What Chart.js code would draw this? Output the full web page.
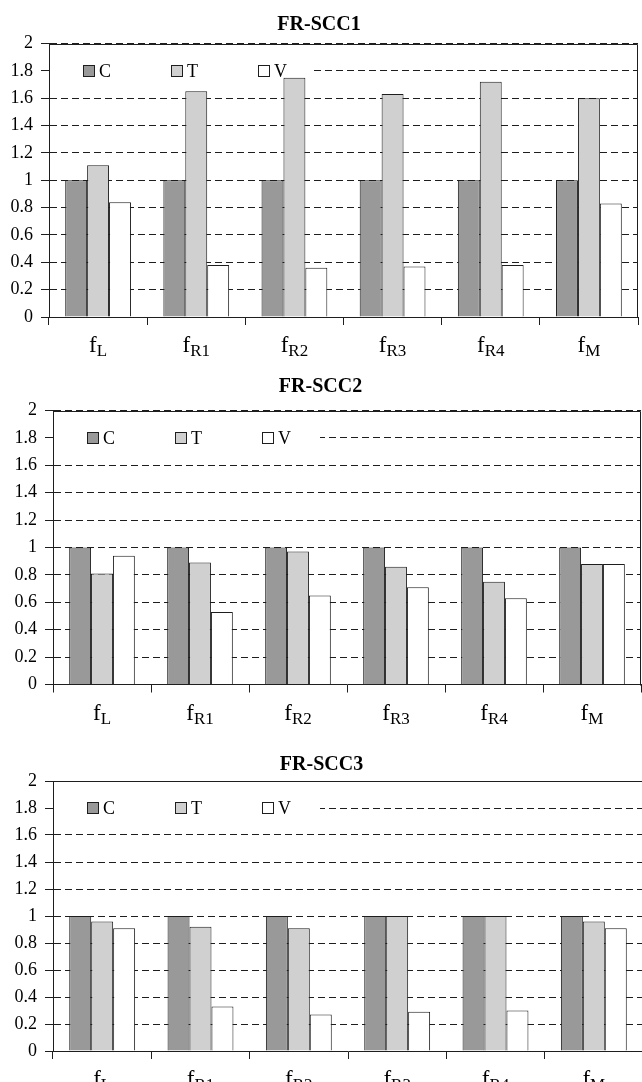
<!DOCTYPE html>
<html>
<head>
<meta charset="utf-8">
<script src="https://cdn.jsdelivr.net/npm/chart.js@4.4.1/dist/chart.umd.min.js"></script>
<style>
  html, body { margin: 0; padding: 0; background: #fff; overflow: hidden; width: 642px; height: 1082px; }
  .panel { position: absolute; left: 0; width: 650px; }
</style>
</head>
<body>
<div class="panel" style="top:0px;height:365px"><canvas id="scc1"></canvas></div>
<div class="panel" style="top:360px;height:370px"><canvas id="scc2"></canvas></div>
<div class="panel" style="top:730px;height:380px"><canvas id="scc3"></canvas></div>
<script>
// Categories: subscripts of the factor f (drawn as f with subscript)
const categories = ['L', 'R1', 'R2', 'R3', 'R4', 'M'];
const seriesNames = ['C', 'T', 'V'];
const seriesColors = ['#999999', '#d0d0d0', '#ffffff'];
const yTicks = [0, 0.2, 0.4, 0.6, 0.8, 1, 1.2, 1.4, 1.6, 1.8, 2];

// FR-SCC1
const scc1C = [1, 1, 1, 1, 1, 1];
const scc1T = [1.11, 1.65, 1.75, 1.63, 1.72, 1.60];
const scc1V = [0.84, 0.38, 0.36, 0.37, 0.38, 0.83];
// FR-SCC2
const scc2C = [1, 1, 1, 1, 1, 1];
const scc2T = [0.81, 0.89, 0.97, 0.86, 0.75, 0.88];
const scc2V = [0.94, 0.53, 0.65, 0.71, 0.63, 0.88];
// FR-SCC3
const scc3C = [1, 1, 1, 1, 1, 1];
const scc3T = [0.96, 0.92, 0.91, 1.00, 1.00, 0.96];
const scc3V = [0.91, 0.33, 0.27, 0.29, 0.30, 0.91];

const SERIF = '"Liberation Serif", "Times New Roman", serif';
const INK = '#1e1e1e';

// White legend strip at the 1.8 level inside the plot, hiding that grid line
const insideLegend = {
  id: 'insideLegend',
  beforeDatasetsDraw(chart, args, opts) {
    const { ctx, chartArea, scales: { y } } = chart;
    const yc = Math.round(y.getPixelForValue(opts.level));
    ctx.save();
    ctx.fillStyle = '#fff';
    ctx.fillRect(chartArea.left + 1, yc - 9, opts.boxWidth, 18);
    ctx.font = '18px ' + SERIF;
    ctx.textBaseline = 'middle';
    chart.data.datasets.forEach((ds, i) => {
      const x = Math.round(chartArea.left + opts.offset + i * opts.step);
      ctx.fillStyle = ds.backgroundColor;
      ctx.fillRect(x, yc - 6, 12, 11);
      ctx.strokeStyle = INK;
      ctx.lineWidth = 1;
      ctx.strokeRect(x + 0.5, yc - 6 + 0.5, 11, 11);
      ctx.fillStyle = '#000';
      ctx.fillText(ds.label, x + 16, yc + 1);
    });
    ctx.restore();
  }
};

// Solid frame on top and right of the plot area
const plotFrame = {
  id: 'plotFrame',
  afterDatasetsDraw(chart) {
    const { ctx, chartArea: a } = chart;
    ctx.save();
    ctx.strokeStyle = INK;
    ctx.lineWidth = 1;
    ctx.beginPath();
    ctx.moveTo(Math.round(a.left) + 0.5, Math.round(a.top) + 0.5);
    ctx.lineTo(Math.round(a.right) - 0.5, Math.round(a.top) + 0.5);
    ctx.lineTo(Math.round(a.right) - 0.5, Math.round(a.bottom) + 0.5);
    ctx.stroke();
    ctx.restore();
  }
};

// Category labels: "f" with subscript
const subLabels = {
  id: 'subLabels',
  afterDraw(chart, args, opts) {
    const { ctx, chartArea, scales: { x } } = chart;
    const base = chartArea.bottom + opts.offset;
    ctx.save();
    ctx.fillStyle = '#000';
    ctx.textBaseline = 'alphabetic';
    ctx.textAlign = 'left';
    chart.data.labels.forEach((sub, i) => {
      const cx = x.getPixelForValue(i);
      ctx.font = opts.mainSize + 'px ' + SERIF;
      const wMain = ctx.measureText('f').width;
      ctx.font = opts.subSize + 'px ' + SERIF;
      const wSub = ctx.measureText(sub).width;
      const start = cx - (wMain + wSub) / 2;
      ctx.font = opts.mainSize + 'px ' + SERIF;
      ctx.fillText('f', start, base);
      ctx.font = opts.subSize + 'px ' + SERIF;
      ctx.fillText(sub, start + wMain, base + opts.drop);
    });
    ctx.restore();
  }
};

function makeChart(id, title, c, t, v, g) {
  const values = [c, t, v];
  return new Chart(document.getElementById(id), {
    type: 'bar',
    data: {
      labels: categories,
      datasets: seriesNames.map((name, i) => ({
        label: name,
        data: values[i],
        backgroundColor: seriesColors[i],
        borderColor: INK,
        borderWidth: 1,
        borderSkipped: 'bottom',
        categoryPercentage: 0.67,
        barPercentage: 1.0
      }))
    },
    options: {
      responsive: true,
      maintainAspectRatio: false,
      animation: false,
      devicePixelRatio: 1,
      layout: { padding: { left: 0, right: g.padRight, top: 0, bottom: 0 } },
      plugins: {
        legend: { display: false },
        tooltip: { enabled: false },
        title: {
          display: true,
          text: title,
          color: '#000',
          font: { family: SERIF, size: 20, weight: 'bold', lineHeight: 1.2 },
          padding: { top: g.titleTop, bottom: g.titleBottom }
        },
        insideLegend: { level: 1.8, offset: 34, step: 87.5, boxWidth: g.legendWidth },
        subLabels: { offset: g.labelOffset, mainSize: 23, subSize: 17, drop: 4 }
      },
      scales: {
        x: {
          offset: true,
          grid: { display: true, drawOnChartArea: false, drawTicks: true, tickLength: 8, offset: true, color: INK, tickColor: INK, tickWidth: 1 },
          border: { display: true, color: INK, width: 1 },
          ticks: { display: false },
          afterFit(scale) { scale.height = g.xHeight; }
        },
        y: {
          min: 0,
          max: 2,
          afterBuildTicks(scale) { scale.ticks = yTicks.map(v => ({ value: v })); },
          grid: { color: INK, lineWidth: 1, drawTicks: true, tickLength: 8, tickColor: INK, tickBorderDash: [], tickWidth: 1 },
          border: { display: true, color: INK, width: 1, dash: [7, 4] },
          ticks: {
            color: '#000',
            padding: 8,
            font: { family: SERIF, size: 18 },
            callback: (v) => String(Math.round(v * 10) / 10)
          },
          afterFit(scale) { scale.width = g.yWidth; }
        }
      }
    },
    plugins: [insideLegend, plotFrame, subLabels]
  });
}

makeChart('scc1', 'FR-SCC1', scc1C, scc1T, scc1V,
  { padRight: 12, yWidth: 49, xHeight: 48, titleTop: 13, titleBottom: 6.5, labelOffset: 35, legendWidth: 262 });
makeChart('scc2', 'FR-SCC2', scc2C, scc2T, scc2V,
  { padRight: 9, yWidth: 53, xHeight: 45.5, titleTop: 15, titleBottom: 11.5, labelOffset: 35, legendWidth: 266 });
makeChart('scc3', 'FR-SCC3', scc3C, scc3T, scc3V,
  { padRight: 7, yWidth: 53, xHeight: 59, titleTop: 23, titleBottom: 4, labelOffset: 35, legendWidth: 266 });
</script>
</body>
</html>
